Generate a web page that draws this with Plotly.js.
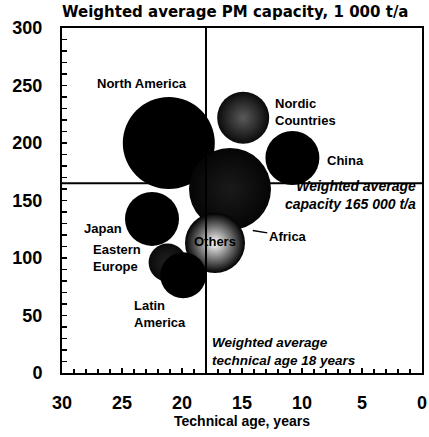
<!DOCTYPE html>
<html><head><meta charset="utf-8">
<script src="https://cdn.plot.ly/plotly-3.0.1.min.js"></script>
<style>html,body{margin:0;padding:0;background:#fff}#chart{width:429px;height:437px}</style>
</head><body><div id="chart"></div>
<script>
// Data
const regions       = ["North America", "Western Europe", "Nordic Countries", "China", "Others", "Japan", "Eastern Europe", "Latin America"];
const technicalAge  = [21.1, 16.0, 14.9, 10.8, 17.25, 22.5, 21.2, 19.9];   // years
const avgCapacity   = [200, 160, 222, 187, 113, 134, 96, 85];             // 1 000 t/a
const totalCapacity = [106, 84.2, 33.9, 36.5, 45.1, 36.5, 18.1, 26.5];   // bubble size
const fillColors    = ["#000", "#050505", "#0a0a0a", "#000", "#000", "#000", "#0a0a0a", "#000"];
const centreColors  = ["#000", "#1a1a1a", "#5a5a5a", "#000", "#ffffff", "#000", "#222", "#000"];
const weightedAge = 18;        // years
const weightedCap = 165;       // 1 000 t/a
const xTickVals = [30, 25, 20, 15, 10, 5, 0];
const yTickVals = [0, 50, 100, 150, 200, 250, 300];

const maxDiam = 92;
const sizeref = 2 * Math.max(...totalCapacity) / (maxDiam * maxDiam);

const F = "Liberation Sans, Arial, sans-serif";
const FT = "DejaVu Sans, sans-serif";
const traces = regions.map((r, i) => ({
  type: "scatter", mode: "markers", name: r,
  x: [technicalAge[i]], y: [avgCapacity[i]],
  marker: {
    size: [totalCapacity[i]], sizemode: "area", sizeref: sizeref, opacity: 1,
    color: fillColors[i], line: {width: 0},
    gradient: {type: "radial", color: centreColors[i]}
  },
  hoverinfo: "text", text: [r], showlegend: false, cliponaxis: false
}));

const lab = (text, x, y, xa, extra) => Object.assign({
  text: text, x: x, y: y, xref: "x", yref: "y", xanchor: xa, yanchor: "middle",
  showarrow: false, align: xa === "center" ? "center" : xa,
  font: {family: F, size: 13, color: "#000", weight: "bold"}
}, extra || {});

const annotations = [
  lab("North America", 23.3, 251.5, "center"),
  lab("Nordic<br>Countries", 12.4, 227, "left"),
  lab("China", 8.1, 184.7, "left"),
  lab("Japan", 24.8, 126, "right"),
  lab("Eastern<br>Europe", 27.6, 99.7, "left"),
  lab("Latin<br>America", 24.2, 51, "left"),
  lab("Others", 17.25, 114.5, "center"),
  {text: "Africa", x: 14.1, y: 124, xref: "x", yref: "y", showarrow: true, arrowhead: 0,
   arrowwidth: 1.5, arrowcolor: "#000", ax: 35, ay: 6, xanchor: "center",
   font: {family: F, size: 13, color: "#000", weight: "bold"}},
  lab("Weighted average<br>capacity 165 000 t/a", 0.3, 155, "right",
      {font: {family: F, size: 14, color: "#000", weight: "bold", style: "italic"}}),
  lab("Weighted average<br>technical age 18 years", 17.7, 19, "left",
      {font: {family: F, size: 13.5, color: "#000", weight: "bold", style: "italic"}})
];

const layout = {
  width: 429, height: 437,
  margin: {l: 62, r: 7, t: 28, b: 64},
  paper_bgcolor: "#fff", plot_bgcolor: "#fff",
  showlegend: false,
  title: {text: "Weighted average PM capacity, 1 000 t/a", x: 62 / 429, xanchor: "left",
          xref: "container", y: 1 - 12 / 437, yanchor: "middle", yref: "container",
          font: {family: FT, size: 15, color: "#000", weight: "bold"}},
  xaxis: {
    range: [30, 0], autorange: false, tickvals: xTickVals, ticktext: xTickVals.map(String),
    ticks: "inside", ticklen: 5, tickwidth: 1.5, tickcolor: "#000",
    minor: {dtick: 1, ticks: "inside", ticklen: 4, tickwidth: 1.5, tickcolor: "#000"},
    showline: true, linecolor: "#000", linewidth: 2, mirror: true,
    showgrid: false, zeroline: false, ticklabelstandoff: 12,
    tickfont: {family: F, size: 18, color: "#000", weight: "bold"},
    title: {text: "Technical age, years", standoff: 2,
            font: {family: F, size: 14, color: "#000", weight: "bold"}}
  },
  yaxis: {
    range: [0, 300], autorange: false, tickvals: yTickVals,
    ticks: "inside", ticklen: 5, tickwidth: 1.5, tickcolor: "#000",
    minor: {dtick: 10, ticks: "inside", ticklen: 5, tickwidth: 1.5, tickcolor: "#000"},
    showline: true, linecolor: "#000", linewidth: 2, mirror: true,
    showgrid: false, zeroline: false, ticklabelstandoff: 14,
    tickfont: {family: F, size: 18, color: "#000", weight: "bold"}
  },
  shapes: [
    {type: "line", xref: "x", yref: "y", x0: weightedAge, x1: weightedAge, y0: 0, y1: 300,
     line: {color: "#000", width: 2}, layer: "above"},
    {type: "line", xref: "paper", yref: "y", x0: 0, x1: 1, y0: weightedCap, y1: weightedCap,
     line: {color: "#000", width: 2}, layer: "below"}
  ],
  annotations: annotations
};

Plotly.newPlot("chart", traces, layout, {displayModeBar: false, staticPlot: true});
</script></body></html>
